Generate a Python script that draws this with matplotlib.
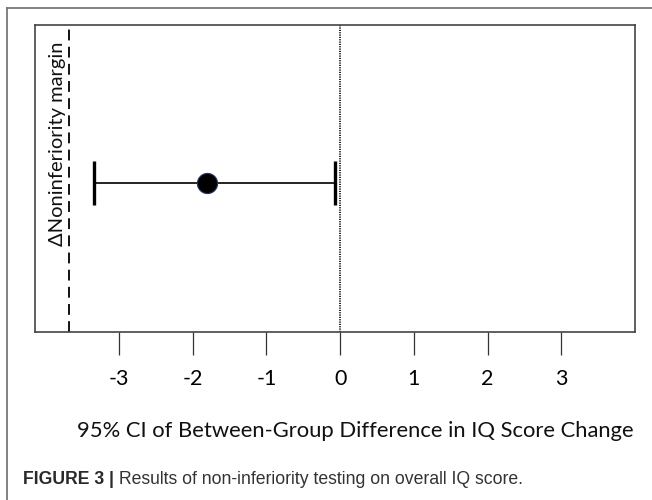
import matplotlib
matplotlib.use('Agg')
import matplotlib.pyplot as plt
from matplotlib.lines import Line2D

# data
ticks = [-3, -2, -1, 0, 1, 2, 3]
estimate = -1.81
ci_low = -3.34
ci_high = -0.07
margin = -3.68
xlabel = '95% CI of Between-Group Difference in IQ Score Change'
margin_label = '\u0394Noninferiority margin'
caption_bold = 'FIGURE 3 |'
caption_rest = ' Results of non-inferiority testing on overall IQ score.'

W, H = 652, 500
fig = plt.figure(figsize=(W / 100, H / 100), dpi=100)
fig.patch.set_facecolor('white')

# outer frame (top and left only)
fig.add_artist(Line2D([7.3 / W, 1.0], [1 - 8.3 / H, 1 - 8.3 / H], color='#777777', lw=1.3))
fig.add_artist(Line2D([7.3 / W, 7.3 / W], [0, 1 - 8.3 / H], color='#777777', lw=1.3))

ax = fig.add_axes([35 / W, 1 - 331.7 / H, 600 / W, 307.2 / H])
ax.set_xlim(-4.14, 4.0)
ax.set_ylim(0, 1)

ax.axvline(margin, color='black', lw=1.3, linestyle=(0, (6, 3.5)))
ax.axvline(0, color='#222222', lw=1.4, linestyle=(0, (0.6, 0.6)))

ax.errorbar([estimate], [0.484], xerr=[[estimate - ci_low], [ci_high - estimate]],
            fmt='none', ecolor='black', elinewidth=1.2, capsize=16, capthick=2.4)
ax.plot([estimate], [0.484], 'o', ms=14.5, mfc='black', mec='#1f3864', mew=0.8, zorder=5)

ax.text(-3.83, 0.612, margin_label, rotation=90, ha='center', va='center',
        fontsize=14.5, family='Lato', color='#111111')

ax.set_xticks(ticks)
ax.set_xticklabels([str(t) for t in ticks], family='Lato', fontsize=15.5)
ax.tick_params(axis='x', direction='out', length=16.5, width=0.9, pad=10, color='#333333')
ax.set_yticks([])
for s in ax.spines.values():
    s.set_color('#444444')
    s.set_linewidth(1.2)

fig.text(355 / W, 1 - 431 / H, xlabel, ha='center', va='center',
         fontsize=15.8, family='Lato', color='#111111')

cap = fig.text(23 / W, 1 - 480 / H, caption_bold, ha='left', va='center',
               fontsize=12.7, family='Liberation Sans', weight='bold', color='#2a2a2a')
fig.canvas.draw()
bb = cap.get_window_extent()
fig.text(bb.x1 / W, 1 - 480 / H, caption_rest, ha='left', va='center',
         fontsize=12.7, family='Liberation Sans', color='#333333')

fig.savefig('out.png', dpi=100)
